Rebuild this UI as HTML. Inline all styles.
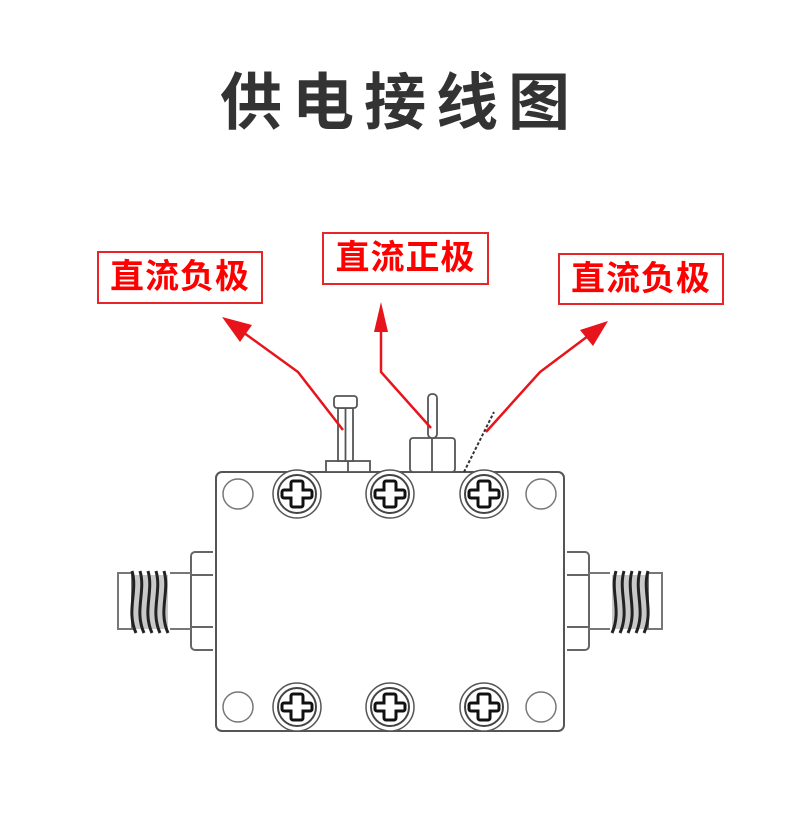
<!DOCTYPE html>
<html><head><meta charset="utf-8"><style>
html,body{margin:0;padding:0;background:#fff;}
body{width:790px;height:820px;position:relative;overflow:hidden;font-family:"Liberation Sans","Noto Sans CJK SC",sans-serif;}
.t{position:absolute;left:5px;width:790px;top:64px;text-align:center;font-size:62px;font-weight:bold;color:#333;letter-spacing:10px;line-height:80px;}
.b{position:absolute;border:2px solid #e8262a;color:#f00;font-size:34px;font-weight:bold;text-align:center;box-sizing:border-box;line-height:48px;letter-spacing:1px;}
</style></head><body>
<div class="t">供电接线图</div>
<div class="b" style="left:97px;top:251px;width:166px;height:53px;">直流负极</div>
<div class="b" style="left:322px;top:232px;width:167px;height:53px;">直流正极</div>
<div class="b" style="left:558px;top:253px;width:166px;height:52px;">直流负极</div>
<svg width="790" height="820" style="position:absolute;left:0;top:0" xmlns="http://www.w3.org/2000/svg">
<defs>
<g id="scr">
<circle r="24" fill="#fff" stroke="#555" stroke-width="1.5"/>
<circle r="19" fill="none" stroke="#444" stroke-width="2"/>
<path d="M-4,-13 h8 a2,2 0 0 1 2,2 v7 h7 a2,2 0 0 1 2,2 v4 a2,2 0 0 1 -2,2 h-7 v7 a2,2 0 0 1 -2,2 h-8 a2,2 0 0 1 -2,-2 v-7 h-7 a2,2 0 0 1 -2,-2 v-4 a2,2 0 0 1 2,-2 h7 v-7 a2,2 0 0 1 2,-2z" fill="#fff" stroke="#111" stroke-width="3"/>
</g>
<g id="conn">
<path d="M213,552 h-18 a4,4 0 0 0 -4,4 v90 a4,4 0 0 0 4,4 h18" fill="#fff" stroke="#666" stroke-width="2"/>
<line x1="191" y1="575" x2="213" y2="575" stroke="#666" stroke-width="2"/>
<line x1="191" y1="627" x2="213" y2="627" stroke="#666" stroke-width="2"/>
<line x1="170" y1="573" x2="191" y2="573" stroke="#777" stroke-width="2"/>
<line x1="170" y1="629" x2="191" y2="629" stroke="#777" stroke-width="2"/>
<rect x="118" y="573" width="14" height="56" fill="#fff" stroke="#777" stroke-width="2"/>
<rect x="132" y="575" width="36" height="54" fill="#888" opacity="0.45"/>
<g stroke="#222" stroke-width="3" fill="none">
<path d="M132,571 c6,20 -6,40 4,62"/><path d="M140,571 c6,20 -6,40 4,62"/><path d="M148,571 c6,20 -6,40 4,62"/><path d="M156,571 c6,20 -6,40 4,62"/><path d="M164,571 c6,20 -6,40 4,62"/>
</g>
</g>
</defs>
<path d="M222,472 h336 a6,6 0 0 1 6,6 v247 a6,6 0 0 1 -6,6 h-336 a6,6 0 0 1 -6,-6 v-247 a6,6 0 0 1 6,-6z" fill="#fff" stroke="#555" stroke-width="2"/>
<use href="#conn"/>
<use href="#conn" transform="translate(780,0) scale(-1,1)"/>
<g stroke="#555" stroke-width="1.8" fill="#fff">
<rect x="326" y="461" width="44" height="11"/>
<line x1="348" y1="461" x2="348" y2="472"/>
<rect x="338" y="408" width="15" height="53"/>
<line x1="345.5" y1="408" x2="345.5" y2="461"/>
<rect x="334" y="396" width="23" height="12" rx="3"/>
<rect x="410" y="438" width="45" height="34" rx="3"/>
<line x1="432" y1="438" x2="432" y2="472"/>
<rect x="428" y="394" width="9" height="44" rx="4"/>
<line x1="464" y1="472" x2="494" y2="412" stroke="#333" stroke-width="2" stroke-dasharray="3,2"/>
</g>
<circle cx="238" cy="494" r="15" fill="#fff" stroke="#777" stroke-width="1.5"/>
<circle cx="541" cy="494" r="15" fill="#fff" stroke="#777" stroke-width="1.5"/>
<circle cx="238" cy="707" r="15" fill="#fff" stroke="#777" stroke-width="1.5"/>
<circle cx="541" cy="707" r="15" fill="#fff" stroke="#777" stroke-width="1.5"/>
<use href="#scr" x="297" y="494"/><use href="#scr" x="390" y="494"/><use href="#scr" x="484" y="494"/>
<use href="#scr" x="297" y="707"/><use href="#scr" x="390" y="707"/><use href="#scr" x="484" y="707"/>
<g stroke="#e8141b" stroke-width="2.5" fill="none">
<polyline points="343,430 298,372 240,330"/>
<polyline points="431,428 381,372 381,322"/>
<polyline points="486,432 540,372 592,333"/>
</g>
<g fill="#e8141b">
<polygon points="222,317 252,325 240,342"/>
<polygon points="381,302 374,332 388,332"/>
<polygon points="608,321 580,330 593,346"/>
</g>
</svg>
</body></html>
